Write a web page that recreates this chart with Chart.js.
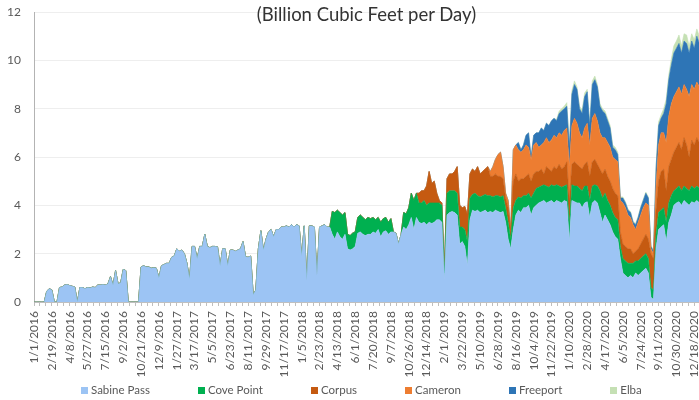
<!DOCTYPE html>
<html>
<head>
<meta charset="utf-8">
<script src="https://cdn.jsdelivr.net/npm/chart.js@4.4.1/dist/chart.umd.min.js"></script>
<style>
  body { margin: 0; background: #fff; }
  #wrap { position: relative; width: 699px; height: 400px; font-family: Lato, "Open Sans", sans-serif; }
  #title { position: absolute; left: 34px; top: 3px; width: 665px; text-align: center;
           font-size: 18.5px; line-height: 22px; color: #333333; pointer-events: none; }
  #legend { position: absolute; left: 81px; top: 383px; display: flex; gap: 48px;
            font-size: 11.5px; line-height: 14px; color: #595959; }
  #legend span.item { display: flex; align-items: center; white-space: nowrap; }
  #legend span.box { display: inline-block; width: 7px; height: 7px; margin-right: 3px; }
</style>
</head>
<body>
<div id="wrap">
  <canvas id="lng-chart" width="699" height="400"></canvas>
  <div id="title">(Billion Cubic Feet per Day)</div>
  <div id="legend"></div>
</div>
<script>
(function () {
    "use strict";

    // weekly readings, first value = week of 1/1/2016 (Bcf/d)
    var sabinePass = [
        0, 0, 0, 0, 0, 0.45, 0.55, 0.5, 0, 0,
        0.6, 0.62, 0.7, 0.72, 0.68, 0.65, 0.62, 0, 0.6, 0.6,
        0.55, 0.6, 0.58, 0.62, 0.6, 0.7, 0.7, 0.72, 0.7, 0.75,
        1.05, 0.7, 1.3, 0.75, 0.8, 1.35, 1.3, 0, 0, 0,
        0, 0, 1.45, 1.5, 1.45, 1.45, 1.4, 1.42, 1.4, 1.0,
        1.5, 1.55, 1.6, 1.6, 1.85, 1.9, 2.2, 2.1, 2.15, 2.0,
        1.6, 0.95, 2.3, 2.3, 1.8, 2.3, 2.3, 2.8, 2.3, 2.25,
        2.3, 2.3, 2.28, 1.5, 2.2, 2.2, 1.5, 2.15, 2.15, 2.1,
        2.15, 2.2, 2.5, 1.87, 1.85, 1.9, 0.3, 0.5, 2.2, 2.95,
        2.15, 2.6, 2.9, 3.0, 2.7, 3.0, 3.0, 3.1, 3.1, 3.15,
        3.1, 3.2, 3.1, 3.2, 3.15, 1.9, 3.15, 0.9, 3.15, 3.15,
        3.1, 1.1, 3.1, 3.15, 3.2, 3.1, 3.1, 2.8, 2.6, 2.9,
        2.7, 2.6, 2.8, 2.2, 2.15, 2.2, 2.3, 2.85, 2.9, 2.8,
        2.75, 2.8, 2.8, 2.9, 2.85, 3.0, 2.7, 2.9, 2.95, 2.8,
        2.9, 2.9, 2.85, 2.4, 2.8, 3.1, 3.0, 3.2, 3.5, 3.0,
        3.5, 3.3, 3.25, 3.3, 3.2, 3.3, 3.25, 3.3, 3.4, 3.4,
        3.3, 0.9, 3.6, 3.7, 3.75, 3.7, 3.6, 2.4, 2.5, 2.3,
        1.5, 3.4, 3.8, 3.75, 3.8, 3.7, 3.75, 3.8, 3.7, 3.75,
        3.7, 3.8, 3.75, 3.7, 3.75, 3.3, 2.6, 2.2, 3.0, 3.6,
        3.8, 3.7, 3.9, 3.9, 4.0, 3.6, 3.9, 4.0, 4.1, 4.15,
        4.2, 4.1, 4.15, 4.2, 4.1, 4.2, 4.15, 4.1, 4.2, 4.15,
        2.5, 4.2, 4.15, 4.1, 4.1, 3.9, 4.1, 4.15, 3.5, 4.1,
        4.2, 4.1, 3.7, 3.3, 3.6, 3.4, 3.2, 2.9, 2.7, 2.6,
        1.8, 1.2, 1.1, 1.0, 1.1, 1.0, 1.2, 1.1, 1.2, 1.3,
        1.4, 1.2, 0.2, 0.1, 2.2, 3.0, 3.1, 3.2, 2.5, 3.3,
        3.6, 4.0, 4.1, 4.15, 4.0, 4.2, 4.1, 4.0, 4.15, 4.1,
        4.2, 4.1
    ];
    var covePoint = [
        0, 0, 0, 0, 0, 0, 0, 0, 0, 0,  0, 0, 0, 0, 0, 0, 0, 0, 0, 0,
        0, 0, 0, 0, 0, 0, 0, 0, 0, 0,  0, 0, 0, 0, 0, 0, 0, 0, 0, 0,
        0, 0, 0, 0, 0, 0, 0, 0, 0, 0,  0, 0, 0, 0, 0, 0, 0, 0, 0, 0,
        0, 0, 0, 0, 0, 0, 0, 0, 0, 0,  0, 0, 0, 0, 0, 0, 0, 0, 0, 0,
        0, 0, 0, 0, 0, 0, 0, 0, 0, 0,  0, 0, 0, 0, 0, 0, 0, 0, 0, 0,
        0, 0, 0, 0, 0, 0, 0, 0, 0, 0,
        0, 0, 0, 0, 0, 0, 0, 0.95, 1.1, 0.9,
        1.0, 1.0, 0.9, 0.6, 0.6, 0.65, 0.6, 0.65, 0.7, 0.7,
        0.65, 0.7, 0.65, 0.6, 0.55, 0.5, 0.6, 0.55, 0.55, 0.5,
        0.55, 0, 0, 0, 0, 0.6, 0.65, 0.7, 1.0, 1.2,
        1.0, 0.8, 0.85, 0.9, 0.8, 0.8, 0.85, 0.8, 0.7, 0.7,
        0.7, 0.3, 0.9, 0.9, 0.85, 0.9, 0.9, 0.7, 0.6, 0.7,
        1.0, 0.9, 0.65, 0.75, 0.6, 0.65, 0.65, 0.65, 0.7, 0.65,
        0.65, 0.6, 0.65, 0.65, 0.65, 0.6, 0.7, 0.4, 0.9, 0.6,
        0.55, 0.6, 0.5, 0.5, 0.5, 0.7, 0.6, 0.7, 0.65, 0.65,
        0.65, 0.7, 0.6, 0.65, 0.7, 0.65, 0.65, 0.65, 0.6, 0.7,
        0.7, 0.65, 0.65, 0.7, 0.6, 0.7, 0.7, 0.65, 0.7, 0.7,
        0.65, 0.7, 0.9, 1.0, 0.9, 0.8, 0.8, 0.8, 0.8, 0.8,
        0.5, 0.6, 0.6, 0.6, 0.5, 0.6, 0.5, 0.6, 0.6, 0.6,
        0.6, 0.6, 0.4, 0.4, 0.6, 0.7, 0.7, 0.7, 0.8, 0.8,
        0.8, 0.6, 0.6, 0.65, 0.6, 0.6, 0.6, 0.6, 0.65, 0.6,
        0.6, 0.6
    ];
    var corpus = [
        0, 0, 0, 0, 0, 0, 0, 0, 0, 0,  0, 0, 0, 0, 0, 0, 0, 0, 0, 0,
        0, 0, 0, 0, 0, 0, 0, 0, 0, 0,  0, 0, 0, 0, 0, 0, 0, 0, 0, 0,
        0, 0, 0, 0, 0, 0, 0, 0, 0, 0,  0, 0, 0, 0, 0, 0, 0, 0, 0, 0,
        0, 0, 0, 0, 0, 0, 0, 0, 0, 0,  0, 0, 0, 0, 0, 0, 0, 0, 0, 0,
        0, 0, 0, 0, 0, 0, 0, 0, 0, 0,  0, 0, 0, 0, 0, 0, 0, 0, 0, 0,
        0, 0, 0, 0, 0, 0, 0, 0, 0, 0,  0, 0, 0, 0, 0, 0, 0, 0, 0, 0,
        0, 0, 0, 0, 0, 0, 0, 0, 0, 0,  0, 0, 0, 0, 0, 0, 0, 0, 0, 0,
        0, 0, 0, 0, 0, 0, 0, 0, 0, 0,
        0, 0.4, 0.5, 0.4, 0.8, 1.3, 0.8, 0.9, 0.4, 0.1,
        0.1, 0.1, 0.6, 0.7, 0.7, 0.8, 1.1, 0.9, 0.8, 0.95,
        1.1, 1.0, 1.05, 0.9, 1.2, 0.95, 1.0, 1.05, 1.2, 0.8,
        0.85, 0.9, 0.8, 0.85, 0.7, 0.4, 0.6, 0.3, 1.1, 1.1,
        0.65, 0.8, 0.7, 0.8, 0.8, 0.7, 0.8, 0.7, 0.65, 0.7,
        0.45, 0.8, 0.75, 0.55, 0.8, 0.65, 0.9, 0.75, 0.8, 0.95,
        1.0, 0.85, 1.0, 0.9, 0.9, 0.9, 0.9, 1.0, 1.0, 1.0,
        1.05, 0.9, 0.9, 1.0, 1.0, 1.0, 1.0, 1.0, 1.0, 1.0,
        0.6, 0.6, 0.6, 0.6, 0.6, 0.4, 0.4, 0.5, 0.6, 0.7,
        0.8, 0.8, 1.4, 1.3, 1.0, 1.3, 1.6, 1.6, 1.3, 1.5,
        1.5, 1.6, 1.7, 1.8, 1.7, 2.0, 1.8, 1.4, 1.9, 1.8,
        2.0, 1.9
    ];
    var cameron = [
        0, 0, 0, 0, 0, 0, 0, 0, 0, 0,  0, 0, 0, 0, 0, 0, 0, 0, 0, 0,
        0, 0, 0, 0, 0, 0, 0, 0, 0, 0,  0, 0, 0, 0, 0, 0, 0, 0, 0, 0,
        0, 0, 0, 0, 0, 0, 0, 0, 0, 0,  0, 0, 0, 0, 0, 0, 0, 0, 0, 0,
        0, 0, 0, 0, 0, 0, 0, 0, 0, 0,  0, 0, 0, 0, 0, 0, 0, 0, 0, 0,
        0, 0, 0, 0, 0, 0, 0, 0, 0, 0,  0, 0, 0, 0, 0, 0, 0, 0, 0, 0,
        0, 0, 0, 0, 0, 0, 0, 0, 0, 0,  0, 0, 0, 0, 0, 0, 0, 0, 0, 0,
        0, 0, 0, 0, 0, 0, 0, 0, 0, 0,  0, 0, 0, 0, 0, 0, 0, 0, 0, 0,
        0, 0, 0, 0, 0, 0, 0, 0, 0, 0,  0, 0, 0, 0, 0, 0, 0, 0, 0, 0,
        0, 0, 0, 0, 0, 0, 0, 0, 0, 0,
        0, 0, 0, 0, 0, 0, 0, 0, 0, 0.2,
        0.4, 0.6, 0.9, 1.0, 0.5, 0.2, 0.3, 0.1, 1.3, 1.2,
        1.3, 1.1, 1.2, 1.3, 1.1, 0.9, 1.2, 1.2, 1.0, 1.0,
        1.3, 1.2, 1.1, 1.3, 1.3, 1.3, 1.3, 1.4, 1.5, 1.4,
        1.4, 1.6, 1.8, 1.7, 1.4, 1.3, 1.5, 1.6, 1.3, 1.8,
        1.9, 1.8, 1.5, 1.5, 1.3, 1.4, 1.4, 1.3, 1.4, 1.4,
        1.3, 1.7, 1.6, 1.4, 1.3, 1.2, 0.9, 1.1, 1.2, 1.3,
        1.3, 1.4, 0.2, 0.2, 1.0, 1.5, 1.6, 1.5, 2.0, 2.1,
        2.3, 2.3, 2.3, 2.3, 2.3, 2.2, 2.3, 2.5, 2.3, 2.3,
        2.3, 2.3
    ];
    var freeport = [
        0, 0, 0, 0, 0, 0, 0, 0, 0, 0,  0, 0, 0, 0, 0, 0, 0, 0, 0, 0,
        0, 0, 0, 0, 0, 0, 0, 0, 0, 0,  0, 0, 0, 0, 0, 0, 0, 0, 0, 0,
        0, 0, 0, 0, 0, 0, 0, 0, 0, 0,  0, 0, 0, 0, 0, 0, 0, 0, 0, 0,
        0, 0, 0, 0, 0, 0, 0, 0, 0, 0,  0, 0, 0, 0, 0, 0, 0, 0, 0, 0,
        0, 0, 0, 0, 0, 0, 0, 0, 0, 0,  0, 0, 0, 0, 0, 0, 0, 0, 0, 0,
        0, 0, 0, 0, 0, 0, 0, 0, 0, 0,  0, 0, 0, 0, 0, 0, 0, 0, 0, 0,
        0, 0, 0, 0, 0, 0, 0, 0, 0, 0,  0, 0, 0, 0, 0, 0, 0, 0, 0, 0,
        0, 0, 0, 0, 0, 0, 0, 0, 0, 0,  0, 0, 0, 0, 0, 0, 0, 0, 0, 0,
        0, 0, 0, 0, 0, 0, 0, 0, 0, 0,  0, 0, 0, 0, 0, 0, 0, 0, 0, 0,
        0, 0, 0, 0, 0, 0, 0, 0, 0, 0,
        0.3, 0.1, 0.2, 0.4, 0.6, 0.1, 0.4, 0.4, 0.6, 0.7,
        0.5, 0.6, 0.7, 0.8, 0.7, 0.7, 0.8, 1.0, 0.9, 0.9,
        0.8, 1.3, 1.4, 1.4, 1.0, 1.0, 1.3, 1.3, 0.8, 1.4,
        1.4, 1.4, 1.1, 1.1, 1.0, 0.9, 0.8, 0.4, 0.4, 0.3,
        0.1, 0.2, 0.2, 0.2, 0.2, 0.1, 0.2, 0.2, 0.3, 0.3,
        0.4, 0.3, 0.1, 0.1, 0.7, 0.8, 0.6, 0.8, 1.6, 1.5,
        1.6, 1.8, 1.8, 1.8, 1.7, 1.8, 1.9, 1.8, 1.8, 1.7,
        1.9, 1.8
    ];
    var elba = [
        0, 0, 0, 0, 0, 0, 0, 0, 0, 0,  0, 0, 0, 0, 0, 0, 0, 0, 0, 0,
        0, 0, 0, 0, 0, 0, 0, 0, 0, 0,  0, 0, 0, 0, 0, 0, 0, 0, 0, 0,
        0, 0, 0, 0, 0, 0, 0, 0, 0, 0,  0, 0, 0, 0, 0, 0, 0, 0, 0, 0,
        0, 0, 0, 0, 0, 0, 0, 0, 0, 0,  0, 0, 0, 0, 0, 0, 0, 0, 0, 0,
        0, 0, 0, 0, 0, 0, 0, 0, 0, 0,  0, 0, 0, 0, 0, 0, 0, 0, 0, 0,
        0, 0, 0, 0, 0, 0, 0, 0, 0, 0,  0, 0, 0, 0, 0, 0, 0, 0, 0, 0,
        0, 0, 0, 0, 0, 0, 0, 0, 0, 0,  0, 0, 0, 0, 0, 0, 0, 0, 0, 0,
        0, 0, 0, 0, 0, 0, 0, 0, 0, 0,  0, 0, 0, 0, 0, 0, 0, 0, 0, 0,
        0, 0, 0, 0, 0, 0, 0, 0, 0, 0,  0, 0, 0, 0, 0, 0, 0, 0, 0, 0,
        0, 0, 0, 0, 0, 0, 0, 0, 0, 0,  0, 0, 0, 0, 0, 0, 0, 0, 0, 0,
        0, 0, 0, 0, 0, 0.05, 0.1, 0.1, 0.1, 0.15,
        0.15, 0.15, 0.15, 0.1, 0.1, 0.15, 0.15, 0.1, 0.1, 0.15,
        0.15, 0.1, 0.1, 0.1, 0.1, 0.1, 0.1, 0.1, 0.1, 0.1,
        0.05, 0.05, 0.05, 0.05, 0.05, 0.05, 0.05, 0.05, 0.05, 0.05,
        0.05, 0.05, 0.05, 0.05, 0.1, 0.15, 0.15, 0.2, 0.2, 0.2,
        0.25, 0.3, 0.3, 0.35, 0.3, 0.3, 0.35, 0.3, 0.3, 0.35,
        0.3, 0.3
    ];

    // x axis labels, one every 49 days starting 1/1/2016
    var tickLabels = [
        "1/1/2016", "2/19/2016", "4/8/2016", "5/27/2016", "7/15/2016", "9/2/2016",
        "10/21/2016", "12/9/2016", "1/27/2017", "3/17/2017", "5/5/2017", "6/23/2017",
        "8/11/2017", "9/29/2017", "11/17/2017", "1/5/2018", "2/23/2018", "4/13/2018",
        "6/1/2018", "7/20/2018", "9/7/2018", "10/26/2018", "12/14/2018", "2/1/2019",
        "3/22/2019", "5/10/2019", "6/28/2019", "8/16/2019", "10/4/2019", "11/22/2019",
        "1/10/2020", "2/28/2020", "4/17/2020", "6/5/2020", "7/24/2020", "9/11/2020",
        "10/30/2020", "12/18/2020"
    ];

    var seriesNames = ["Sabine Pass", "Cove Point", "Corpus", "Cameron", "Freeport", "Elba"];
    var seriesColors = ["#9cc4f4", "#00b050", "#c55a11", "#ed7d31", "#2e75b6", "#c5e0b4"];
    var seriesData = [sabinePass, covePoint, corpus, cameron, freeport, elba];

    // day number (since 1/1/2016) of each weekly reading
    var dayNumbers = sabinePass.map(function (v, i) { return i * 7; });
    var lastDay = 1826; // 12/31/2020

    Chart.defaults.font.family = "Lato, 'Open Sans', sans-serif";
    Chart.defaults.color = "#595959";

    var datasets = seriesData.map(function (values, i) {
        return {
            label: seriesNames[i],
            data: values,
            backgroundColor: seriesColors[i],
            borderColor: seriesColors[i],
            borderWidth: 0.6,
            pointRadius: 0,
            tension: 0,
            fill: i === 0 ? "origin" : "-1"
        };
    });

    new Chart(document.getElementById("lng-chart").getContext("2d"), {
        type: "line",
        data: { labels: dayNumbers, datasets: datasets },
        options: {
            responsive: false,
            animation: false,
            events: [],
            layout: { padding: { top: 12, right: 0, left: 0, bottom: 0 } },
            plugins: { legend: { display: false }, tooltip: { enabled: false } },
            scales: {
                x: {
                    type: "linear",
                    min: 0,
                    max: lastDay,
                    grid: { drawOnChartArea: false, drawTicks: true, tickLength: 4, color: "#bfbfbf" },
                    border: { display: true, color: "#bfbfbf" },
                    afterBuildTicks: function (scale) {
                        // minor tick marks every third of a label interval
                        var ticks = [];
                        for (var k = 0; k * 49 / 3 <= lastDay; k++) {
                            ticks.push({ value: k * 49 / 3 });
                        }
                        scale.ticks = ticks;
                    },
                    afterFit: function (scale) {
                        scale.height = 98;
                        scale.paddingLeft = 0;
                        scale.paddingRight = 0;
                    },
                    ticks: {
                        autoSkip: false,
                        minRotation: 90,
                        maxRotation: 90,
                        padding: 5,
                        font: { size: 12 },
                        color: "#595959",
                        callback: function (value, index) {
                            return index % 3 === 0 ? tickLabels[index / 3] : "";
                        }
                    }
                },
                y: {
                    stacked: true,
                    min: 0,
                    max: 12,
                    grid: { color: "#eeeeee", drawTicks: false },
                    border: { display: true, color: "#b3b3b3" },
                    afterFit: function (scale) {
                        scale.width = 34;
                        scale.paddingTop = 0;
                        scale.paddingBottom = 0;
                    },
                    ticks: { stepSize: 2, padding: 13, font: { size: 12 }, color: "#595959" }
                }
            }
        }
    });

    // Legend
    var legend = document.getElementById("legend");
    seriesNames.forEach(function (name, i) {
        var item = document.createElement("span");
        item.className = "item";
        var box = document.createElement("span");
        box.className = "box";
        box.style.background = seriesColors[i];
        item.appendChild(box);
        item.appendChild(document.createTextNode(name));
        legend.appendChild(item);
    });
})();
</script>
</body>
</html>
